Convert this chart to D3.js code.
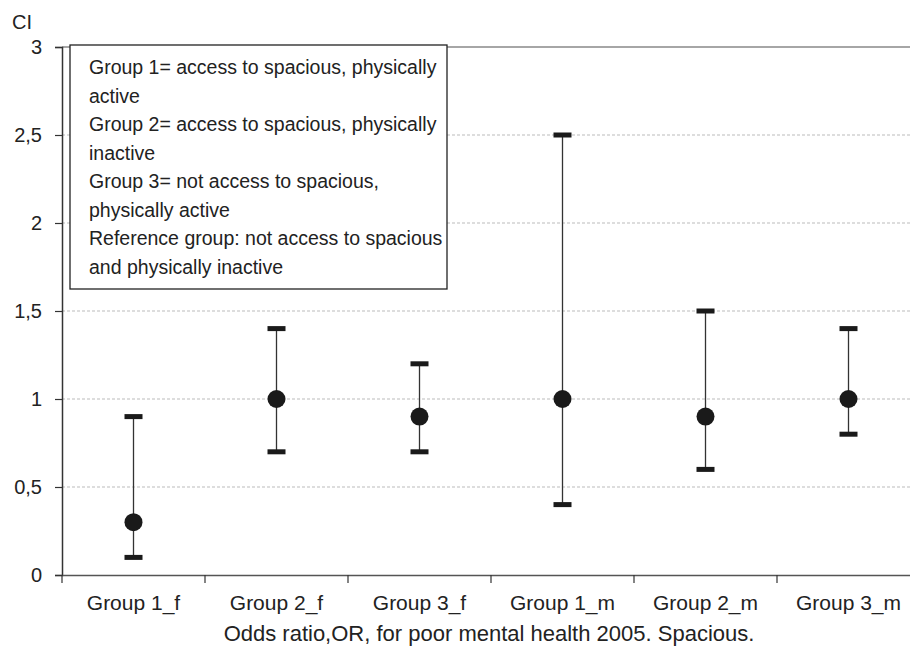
<html>
<head>
<meta charset="utf-8">
<script src="https://d3js.org/d3.v7.min.js"></script>
<style>
  body { margin: 0; background: #fff; }
  text { font-family: "Liberation Sans", Arial, sans-serif; fill: #222; }
</style>
</head>
<body>
<div id="chart"></div>
<script>
var groups = ['Group 1_f', 'Group 2_f', 'Group 3_f', 'Group 1_m', 'Group 2_m', 'Group 3_m'];
var oddsRatio = [0.3, 1.0, 0.9, 1.0, 0.9, 1.0];
var ciLow = [0.1, 0.7, 0.7, 0.4, 0.6, 0.8];
var ciHigh = [0.9, 1.4, 1.2, 2.5, 1.5, 1.4];
var yTicks = [0, 0.5, 1, 1.5, 2, 2.5, 3];
var legendLines = [
    'Group 1= access to spacious, physically',
    'active',
    'Group 2= access to spacious, physically',
    'inactive',
    'Group 3= not access to spacious,',
    'physically active',
    'Reference group: not access to spacious',
    'and physically inactive'
];

var width = 910, height = 647;
var svg = d3.select('#chart').append('svg')
    .attr('width', width).attr('height', height);

var plotLeft = 62, plotTop = 47, plotBottom = 575;
var x = d3.scaleBand().domain(groups).range([plotLeft, plotLeft + 6 * 143]).padding(0);
var y = d3.scaleLinear().domain([0, 3]).range([plotBottom, plotTop]);

// gridlines
svg.append('g').selectAll('line')
    .data(yTicks.filter(function (d) { return d > 0 && d < 3; }))
    .enter().append('line')
    .attr('x1', plotLeft).attr('x2', width)
    .attr('y1', function (d) { return y(d); }).attr('y2', function (d) { return y(d); })
    .attr('stroke', '#bbb').attr('stroke-width', 1).attr('stroke-dasharray', '3,2');

svg.append('line')
    .attr('x1', plotLeft).attr('x2', width)
    .attr('y1', y(3)).attr('y2', y(3))
    .attr('stroke', '#888').attr('stroke-width', 1.5);

// y axis
var yAxis = d3.axisLeft(y).tickValues(yTicks).tickSize(7).tickPadding(13)
    .tickFormat(function (d) { return String(d).replace('.', ','); });
var gy = svg.append('g').attr('transform', 'translate(' + plotLeft + ',0)').call(yAxis);
gy.select('.domain').attr('stroke', '#333').attr('stroke-width', 1.5);
gy.selectAll('.tick line').attr('stroke', '#333').attr('stroke-width', 1.2);
gy.selectAll('.tick text').style('font-size', '20px').attr('fill', '#222');

// x axis
var xAxis = d3.axisBottom(x).tickSize(0).tickPadding(20);
var gx = svg.append('g').attr('transform', 'translate(0,' + plotBottom + ')').call(xAxis);
gx.select('.domain').attr('stroke', '#555').attr('stroke-width', 1.5);
gx.selectAll('.tick text').style('font-size', '21px').attr('fill', '#222');
gx.selectAll('.sep').data(groups).enter().append('line')
    .attr('x1', function (d) { return x(d); }).attr('x2', function (d) { return x(d); })
    .attr('y1', 0).attr('y2', 8)
    .attr('stroke', '#333').attr('stroke-width', 1.2);

// labels
svg.append('text').attr('x', 12).attr('y', 29).style('font-size', '20px').text('CI');
svg.append('text').attr('x', 489).attr('y', 641)
    .attr('text-anchor', 'middle').style('font-size', '22px')
    .text('Odds ratio,OR, for poor mental health 2005. Spacious.');

// error bars
var bars = svg.append('g').selectAll('g')
    .data(groups).enter().append('g')
    .attr('transform', function (d) { return 'translate(' + (x(d) + x.bandwidth() / 2) + ',0)'; });

bars.append('line')
    .attr('y1', function (d, i) { return y(ciLow[i]); })
    .attr('y2', function (d, i) { return y(ciHigh[i]); })
    .attr('stroke', '#333').attr('stroke-width', 1.3);

bars.append('rect')
    .attr('x', -9).attr('width', 18).attr('height', 5)
    .attr('y', function (d, i) { return y(ciLow[i]) - 2.5; })
    .attr('fill', '#1a1a1a');

bars.append('rect')
    .attr('x', -9).attr('width', 18).attr('height', 5)
    .attr('y', function (d, i) { return y(ciHigh[i]) - 2.5; })
    .attr('fill', '#1a1a1a');

bars.append('circle')
    .attr('cy', function (d, i) { return y(oddsRatio[i]); })
    .attr('r', 9).attr('fill', '#1a1a1a');

// legend box
var legend = svg.append('g');
legend.append('rect')
    .attr('x', 70).attr('y', 45).attr('width', 377).attr('height', 244)
    .attr('fill', '#fff').attr('stroke', '#222').attr('stroke-width', 1.3);
legend.selectAll('text').data(legendLines).enter().append('text')
    .attr('x', 89)
    .attr('y', function (d, i) { return 74 + i * 28.5; })
    .style('font-size', '19.5px')
    .text(function (d) { return d; });
</script>
</body>
</html>
